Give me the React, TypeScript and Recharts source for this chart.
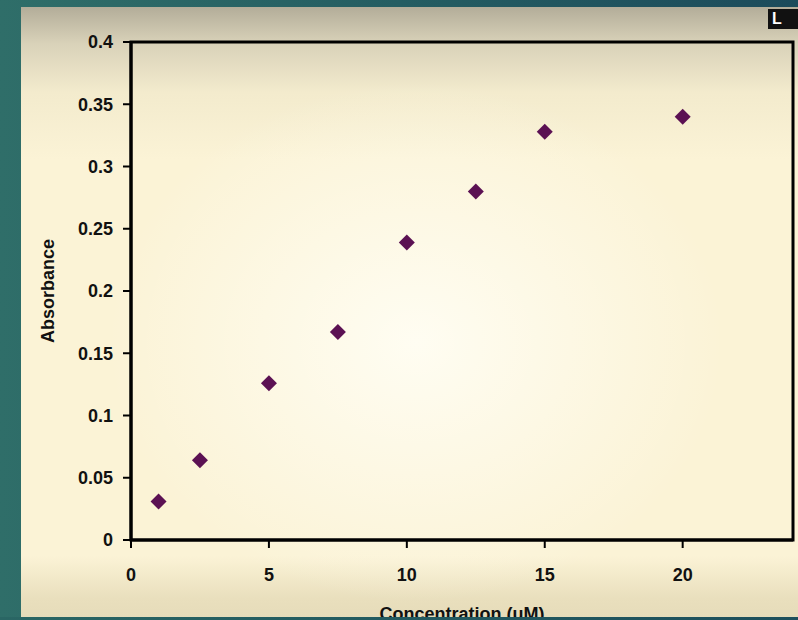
import { ScatterChart, Scatter, XAxis, YAxis, ReferenceArea } from 'recharts'

const concentration = [1, 2.5, 5, 7.5, 10, 12.5, 15, 20]
const absorbance = [0.031, 0.064, 0.126, 0.167, 0.239, 0.28, 0.328, 0.34]
const xTicks = [0, 5, 10, 15, 20]
const yTicks = [0, 0.05, 0.1, 0.15, 0.2, 0.25, 0.3, 0.35, 0.4]

const data = concentration.map((c, i) => ({ x: c, y: absorbance[i] }))

const FONT = "'Liberation Sans', Arial, sans-serif"

const Diamond = (props: any) => {
  const { cx, cy } = props
  const r = 8
  return (
    <polygon
      points={`${cx},${cy - r} ${cx + r},${cy} ${cx},${cy + r} ${cx - r},${cy}`}
      fill="#5b1153"
    />
  )
}

export default function App() {
  const tickStyle = { fill: '#111', fontSize: 18, fontWeight: 700, fontFamily: FONT }
  return (
    <div
      style={{
        position: 'fixed',
        left: 0,
        top: 0,
        width: 798,
        height: 620,
        overflow: 'hidden',
        background: 'linear-gradient(to right, #2f6e69 0%, #245d62 50%, #1c4b5b 100%)',
      }}
    >
      <div
        style={{
          position: 'absolute',
          left: 21,
          top: 7,
          width: 790,
          height: 610,
          background:
            'radial-gradient(ellipse at 50% 55%, rgba(255,253,242,1) 0%, rgba(255,251,235,0) 55%), linear-gradient(to bottom, #b3ad99 0%, #d9d2b9 6%, #f3ebcd 14%, #fbf3d6 25%, #fbf3d6 90%, #e9dfbd 97%, #e6dcba 100%)',
        }}
      />
      <div
        style={{
          position: 'absolute',
          left: 768,
          top: 9,
          width: 30,
          height: 20,
          background: '#111',
          color: '#fff',
          fontFamily: FONT,
          fontWeight: 700,
          fontSize: 16,
          lineHeight: '20px',
          paddingLeft: 4,
        }}
      >
        L
      </div>
      <div style={{ position: 'absolute', left: 0, top: 0 }}>
        <ScatterChart width={798} height={620} margin={{ top: 42, right: 5, left: 21, bottom: 0 }}>
          <ReferenceArea x1={0} x2={24} y1={0} y2={0.4} fill="none" stroke="#000" strokeWidth={3} />
          <XAxis
            type="number"
            dataKey="x"
            domain={[0, 24]}
            ticks={xTicks}
            height={80}
            axisLine={{ stroke: '#000', strokeWidth: 3 }}
            tickLine={{ stroke: '#000', strokeWidth: 2 }}
            tickSize={8}
            tickMargin={20}
            tick={tickStyle}
            label={{
              value: 'Concentration (uM)',
              position: 'insideBottom',
              offset: 0,
              style: { fill: '#111', fontSize: 18, fontWeight: 700, fontFamily: FONT },
            }}
          />
          <YAxis
            type="number"
            dataKey="y"
            domain={[0, 0.4]}
            ticks={yTicks}
            width={110}
            axisLine={{ stroke: '#000', strokeWidth: 3 }}
            tickLine={{ stroke: '#000', strokeWidth: 2 }}
            tickSize={8}
            tickMargin={10}
            tick={tickStyle}
            label={{
              value: 'Absorbance',
              angle: -90,
              position: 'insideLeft',
              offset: 27,
              style: { fill: '#111', fontSize: 18, fontWeight: 700, fontFamily: FONT, textAnchor: 'middle' },
            }}
          />
          <Scatter data={data} shape={Diamond} isAnimationActive={false} />
        </ScatterChart>
      </div>
      <div
        style={{
          position: 'absolute',
          left: 0,
          top: 617,
          width: 798,
          height: 3,
          background: 'linear-gradient(to right, #2a6664 0%, #225a60 50%, #1d4f5c 100%)',
        }}
      />
    </div>
  )
}
